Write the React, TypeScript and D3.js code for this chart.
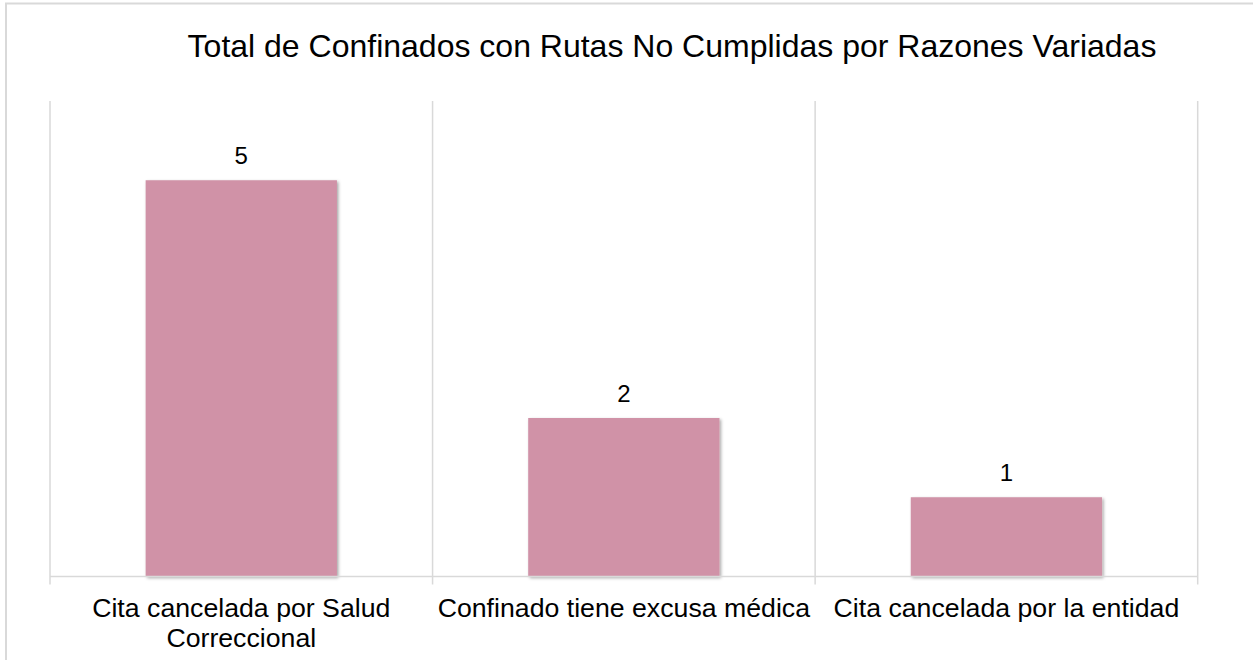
import React, { useRef, useEffect } from "react"
import * as d3 from "d3"

const categories = [
  ["Cita cancelada por Salud", "Correccional"],
  ["Confinado tiene excusa médica"],
  ["Cita cancelada por la entidad"],
]
const values = [5, 2, 1]
const title = "Total de Confinados con Rutas No Cumplidas por Razones Variadas"

export default function App() {
  const el = useRef<SVGSVGElement>(null)

  useEffect(() => {
    const W = 1253
    const H = 660
    const left = 50
    const right = 1197.7
    const top = 101
    const bottom = 576.5
    const font = "Liberation Sans, Arial, sans-serif"

    const svg = d3.select(el.current)
    svg.selectAll("*").remove()

    // frame of the chart area, spills past the right and bottom edge
    svg.append("rect")
      .attr("x", 6).attr("y", 3.5)
      .attr("width", W + 20).attr("height", H + 20)
      .attr("fill", "#fff")
      .attr("stroke", "#d9d9d9").attr("stroke-width", 2)

    const defs = svg.append("defs")
    const f = defs.append("filter").attr("id", "shadow")
      .attr("x", "-5%").attr("y", "-5%").attr("width", "110%").attr("height", "110%")
    f.append("feDropShadow")
      .attr("dx", 1.5).attr("dy", 1.5).attr("stdDeviation", 1.5)
      .attr("flood-color", "#000").attr("flood-opacity", 0.35)

    const x = d3.scaleBand<number>()
      .domain(values.map((_, i) => i))
      .range([left, right])
      .paddingInner(0.5)
      .paddingOuter(0.25)
    const y = d3.scaleLinear().domain([0, 6]).range([bottom, top])

    const step = x.step()
    const bounds = d3.range(values.length + 1).map(i => left + i * step)

    svg.append("g").selectAll("line").data(bounds).join("line")
      .attr("x1", d => d).attr("x2", d => d)
      .attr("y1", top).attr("y2", bottom + 8)
      .attr("stroke", "#d9d9d9").attr("stroke-width", 1.5)

    svg.append("g").selectAll("rect").data(values).join("rect")
      .attr("x", (_, i) => x(i)!)
      .attr("y", d => y(d))
      .attr("width", x.bandwidth())
      .attr("height", d => bottom - y(d))
      .attr("fill", "#d092a7")
      .attr("filter", "url(#shadow)")

    svg.append("line")
      .attr("x1", left).attr("x2", right)
      .attr("y1", bottom).attr("y2", bottom)
      .attr("stroke", "#d9d9d9").attr("stroke-width", 1.5)

    svg.append("g").selectAll("text").data(values).join("text")
      .attr("x", (_, i) => x(i)! + x.bandwidth() / 2)
      .attr("y", d => y(d) - 16.5)
      .attr("text-anchor", "middle")
      .attr("font-family", font).attr("font-size", 24)
      .attr("fill", "#000")
      .text(d => d)

    const labels = svg.append("g").selectAll("text").data(categories).join("text")
      .attr("text-anchor", "middle")
      .attr("font-family", font).attr("font-size", 26.7)
      .attr("fill", "#000")
    labels.each(function (lines, i) {
      d3.select(this).selectAll("tspan").data(lines).join("tspan")
        .attr("x", x(i)! + x.bandwidth() / 2)
        .attr("y", (_, j) => 617 + j * 30)
        .text(d => d)
    })

    svg.append("text")
      .attr("x", 672).attr("y", 57)
      .attr("text-anchor", "middle")
      .attr("font-family", font).attr("font-size", 32)
      .attr("fill", "#000")
      .text(title)
  }, [])

  return <svg ref={el} width={1253} height={660}
    style={{ position: "absolute", left: 0, top: 0, background: "#fff" }} />
}
